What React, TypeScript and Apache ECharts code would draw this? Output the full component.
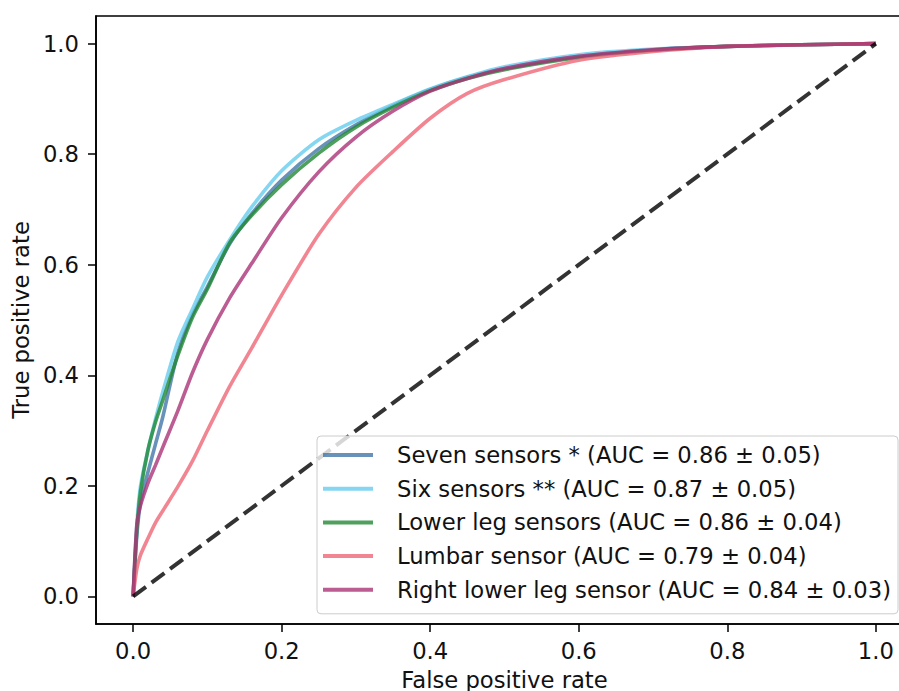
import React, { useEffect, useRef } from "react";
import * as echarts from "echarts";

const FPR = [0, 0.005, 0.01, 0.02, 0.03, 0.04, 0.06, 0.08, 0.1, 0.13, 0.16, 0.2, 0.25, 0.3, 0.35, 0.4, 0.45, 0.5, 0.6, 0.7, 0.8, 0.9, 1.0];

const SEVEN = [0, 0.11, 0.17, 0.225, 0.275, 0.325, 0.44, 0.51, 0.56, 0.638, 0.693, 0.753, 0.81, 0.853, 0.888, 0.917, 0.939, 0.955, 0.977, 0.989, 0.995, 0.998, 1];
const SIX = [0, 0.13, 0.2, 0.265, 0.32, 0.37, 0.46, 0.52, 0.578, 0.645, 0.705, 0.77, 0.826, 0.861, 0.89, 0.918, 0.94, 0.958, 0.98, 0.99, 0.995, 0.998, 1];
const LOWER_LEG = [0, 0.12, 0.19, 0.265, 0.315, 0.355, 0.435, 0.505, 0.556, 0.64, 0.69, 0.745, 0.802, 0.849, 0.885, 0.915, 0.937, 0.953, 0.975, 0.988, 0.995, 0.998, 1];
const LUMBAR = [0, 0.05, 0.075, 0.105, 0.133, 0.155, 0.198, 0.245, 0.3, 0.38, 0.45, 0.545, 0.655, 0.74, 0.805, 0.865, 0.91, 0.935, 0.97, 0.986, 0.995, 0.998, 1];
const RIGHT_LOWER_LEG = [0, 0.13, 0.165, 0.205, 0.237, 0.27, 0.335, 0.405, 0.465, 0.54, 0.603, 0.685, 0.768, 0.831, 0.878, 0.914, 0.937, 0.955, 0.977, 0.989, 0.995, 0.998, 1];

const SERIES_NAMES = [
  "Seven sensors * (AUC = 0.86 ± 0.05)",
  "Six sensors ** (AUC = 0.87 ± 0.05)",
  "Lower leg sensors (AUC = 0.86 ± 0.04)",
  "Lumbar sensor (AUC = 0.79 ± 0.04)",
  "Right lower leg sensor (AUC = 0.84 ± 0.03)",
];
const SERIES_VALUES = [SEVEN, SIX, LOWER_LEG, LUMBAR, RIGHT_LOWER_LEG];
const SERIES_COLORS = [
  "rgba(68,119,170,0.8)",
  "rgba(102,204,238,0.8)",
  "rgba(34,136,51,0.8)",
  "rgba(238,102,119,0.8)",
  "rgba(170,51,119,0.8)",
];

const TICKS = [0, 0.2, 0.4, 0.6, 0.8, 1.0];
const CHANCE_X = [0, 1];
const CHANCE_Y = [0, 1];

const FONT = "DejaVu Sans";
const FS = 22.7;

export default function App() {
  const ref = useRef<HTMLDivElement>(null);
  useEffect(() => {
    if (!ref.current) return;
    const chart = echarts.init(ref.current, null, { renderer: "svg" });
    const axisCommon = {
      type: "value",
      min: -0.05,
      max: 1.05,
      axisLine: { show: true, onZero: false, lineStyle: { color: "#000", width: 1.6 } },
      splitLine: { show: false },
      axisTick: {
        show: true,
        customValues: TICKS,
        length: 8,
        inside: false,
        lineStyle: { color: "#000", width: 1.5 },
      },
      nameLocation: "middle",
      nameTextStyle: { fontFamily: FONT, fontSize: FS, color: "#111" },
    };
    const series: any[] = SERIES_VALUES.map((vals, i) => ({
      name: SERIES_NAMES[i],
      type: "line",
      showSymbol: false,
      smooth: 0.25,
      data: FPR.map((x, j) => [x, vals[j]]),
      lineStyle: { color: SERIES_COLORS[i], width: 3.6 },
      itemStyle: { color: SERIES_COLORS[i] },
      z: 2,
    }));
    series.push({
      name: "chance",
      type: "line",
      showSymbol: false,
      data: CHANCE_X.map((x, j) => [x, CHANCE_Y[j]]),
      lineStyle: { color: "rgba(0,0,0,0.8)", width: 4, type: [16, 7] },
      z: 3,
    });
    const label = (margin: number) => ({
      customValues: TICKS,
      formatter: (v: number) => v.toFixed(1),
      fontFamily: FONT,
      fontSize: FS,
      color: "#111",
      margin,
    });
    chart.setOption({
      animation: false,
      grid: {
        left: 96,
        top: 16,
        width: 817,
        height: 608,
        show: true,
        borderColor: "#000",
        borderWidth: 1.6,
        backgroundColor: "transparent",
        containLabel: false,
        outerBoundsMode: "none",
      },
      xAxis: { ...axisCommon, axisLabel: label(15), name: "False positive rate", nameGap: 44 },
      yAxis: { ...axisCommon, axisLabel: label(17), name: "True positive rate", nameGap: 57 },
      legend: {
        data: SERIES_NAMES,
        orient: "vertical",
        left: 317,
        top: 436,
        icon: "rect",
        itemWidth: 50,
        itemHeight: 4,
        itemGap: 5.7,
        padding: [5, 7, 10, 6],
        backgroundColor: "rgba(255,255,255,0.8)",
        borderColor: "#ccc",
        borderWidth: 1,
        borderRadius: 4,
        selectedMode: false,
        textStyle: {
          fontFamily: FONT,
          fontSize: FS,
          color: "#111",
          lineHeight: 28,
          padding: [0, 0, 0, 19],
        },
        z: 10,
      },
      series,
    });
    return () => chart.dispose();
  }, []);
  return (
    <div style={{ position: "fixed", left: 0, top: 0, width: 899, height: 691, overflow: "hidden", background: "#fff" }}>
      <div ref={ref} style={{ width: 930, height: 691 }} />
    </div>
  );
}
